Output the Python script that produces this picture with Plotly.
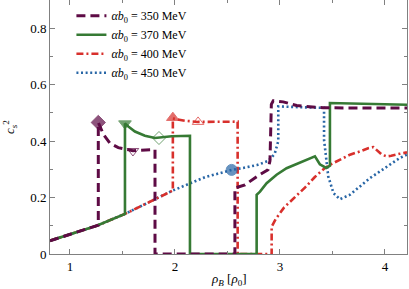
import plotly.graph_objects as go

# ---------------- data ----------------
# shared low-density branch
x_low = [0.81, 1.0, 1.254]
y_low = [0.047, 0.069, 0.100]

# alpha b0 = 350 MeV
x_350 = x_low + [1.27, 1.27, 1.32, 1.38, 1.46, 1.6, 1.7, 1.81, 1.81, 2.571, 2.571, 2.667, 2.79, 2.886,
                 2.905, 2.914, 2.918, 2.936, 3.031, 3.159, 3.286, 3.412, 4.21]
y_350 = y_low + [0.102, 0.466, 0.423, 0.393, 0.377, 0.366, 0.368, 0.370, 0.0, 0.0, 0.234, 0.245, 0.277, 0.298,
                 0.33, 0.42, 0.53, 0.543, 0.539, 0.526, 0.523, 0.518, 0.517]
mx_350 = [1.27, 1.6]
my_350 = [0.466, 0.365]

# alpha b0 = 370 MeV
x_370 = x_low + [1.524, 1.524, 1.556, 1.619, 1.714, 1.81, 1.969, 2.143, 2.143, 2.778, 2.778, 2.81, 2.873,
                 2.968, 3.063, 3.19, 3.333, 3.38, 3.44, 3.476, 3.476, 4.21]
y_370 = y_low + [0.142, 0.462, 0.452, 0.434, 0.419, 0.411, 0.417, 0.419, 0.0, 0.0, 0.21, 0.221, 0.251,
                 0.281, 0.304, 0.324, 0.346, 0.318, 0.305, 0.313, 0.535, 0.529]
mx_370 = [1.524, 1.848]
my_370 = [0.462, 0.411]

# alpha b0 = 400 MeV
x_400 = x_low + [1.524, 1.76, 1.98, 1.98, 2.1, 2.22, 2.597, 2.597, 2.921, 2.921, 2.96, 3.04, 3.14, 3.24,
                 3.33, 3.42, 3.476, 3.57, 3.667, 3.76, 3.84, 3.89, 3.94, 3.97, 4.016, 4.06, 4.14, 4.21]
y_400 = y_low + [0.142, 0.184, 0.225, 0.48, 0.472, 0.468, 0.469, 0.0, 0.0, 0.097, 0.124, 0.165, 0.2, 0.236,
                 0.272, 0.302, 0.316, 0.334, 0.352, 0.363, 0.375, 0.379, 0.363, 0.352, 0.346, 0.348, 0.355, 0.36]
mx_400 = [1.98, 2.22]
my_400 = [0.483, 0.468]

# alpha b0 = 450 MeV
x_450 = x_low + [1.524, 1.76, 1.98, 2.286, 2.43, 2.54, 2.65, 2.78, 2.89, 2.95, 2.984, 2.984, 3.2, 3.42,
                 3.42, 3.435, 3.46, 3.51, 3.57, 3.667, 3.76, 3.857, 3.95, 4.05, 4.14, 4.21]
y_450 = y_low + [0.142, 0.184, 0.225, 0.272, 0.288, 0.298, 0.305, 0.315, 0.33, 0.355, 0.40, 0.523, 0.52, 0.518,
                 0.405, 0.346, 0.275, 0.216, 0.194, 0.21, 0.239, 0.269, 0.292, 0.316, 0.34, 0.352]
mx_450 = [2.54]
my_450 = [0.298]

names = ["350", "370", "400", "450"]
x_ticks = [1, 2, 3, 4]
y_ticks = [0, 0.2, 0.4, 0.6, 0.8]
y_ticklabels = ["0", "0.2", "0.4", "0.6", "0.8"]
x_title = "<i>ρ</i><sub><i>B</i></sub> [<i>ρ</i><sub>0</sub>]"
y_title = "<i>c</i><sub><i>s</i></sub><sup>2</sup>"

# ---------------- styles ----------------
C350 = "#5e0b45"
C370 = "#367a34"
C400 = "#d8302c"
C450 = "#2866a6"
FONT = "Liberation Serif"

fig = go.Figure()

def label(v):
    return "<i>αb</i><sub>0</sub> = " + v + " MeV"

# draw order: blue, red, green, purple (purple on top)
series = [
    (x_450, y_450, mx_450, my_450, C450, dict(width=2.6, dash="2px,2.6px"), ["circle"], 3, names[3]),
    (x_400, y_400, mx_400, my_400, C400, dict(width=2.6, dash="7px,3px,2px,3px"), ["triangle-up", "triangle-up-open"], 2, names[2]),
    (x_370, y_370, mx_370, my_370, C370, dict(width=2.6), ["triangle-down", "diamond-open"], 1, names[1]),
    (x_350, y_350, mx_350, my_350, C350, dict(width=3.0, dash="9px,5px"), ["diamond", "triangle-down-open"], 0, names[0]),
]

for xs, ys, mxs, mys, col, ln, syms, rank, nm in series:
    fig.add_trace(go.Scatter(
        x=xs, y=ys, mode="lines", line=dict(color=col, **ln),
        name=label(nm), legendrank=rank + 1, showlegend=True,
    ))

for xs, ys, mxs, mys, col, ln, syms, rank, nm in series:
    fig.add_trace(go.Scatter(
        x=mxs, y=mys, mode="markers", showlegend=False,
        marker=dict(symbol=syms, color=col, size=[11, 10][:len(mxs)],
                    line=dict(color=col, width=1)),
    ))

axis_common = dict(
    showline=True, linecolor="#808080", linewidth=1, mirror="allticks",
    ticks="inside", ticklen=5, tickwidth=1, tickcolor="#808080",
    showgrid=False, zeroline=False,
    tickfont=dict(family=FONT, size=13, color="black"),
)

fig.update_xaxes(
    range=[0.81, 4.21], tickvals=x_ticks, ticktext=[str(t) for t in x_ticks],
    minor=dict(ticks="inside", dtick=0.5, tick0=0, ticklen=3, tickcolor="#808080", showgrid=False),
    **axis_common,
)
fig.update_yaxes(
    range=[0, 0.9], tickvals=y_ticks, ticktext=y_ticklabels,
    minor=dict(ticks="inside", dtick=0.1, tick0=0, ticklen=3, tickcolor="#808080", showgrid=False),
    **axis_common,
)

# axis titles as annotations (placed in the margins)
fig.add_annotation(text=x_title, xref="paper", yref="paper", x=0.5, y=0,
                   xanchor="center", yanchor="bottom", yshift=-35, showarrow=False,
                   borderpad=0, font=dict(family=FONT, size=13, color="black"))
fig.add_annotation(text=y_title, xref="paper", yref="paper", x=0, y=0.5,
                   xanchor="center", yanchor="middle", xshift=-40, textangle=-90, showarrow=False,
                   font=dict(family=FONT, size=13, color="black"))

fig.update_layout(
    width=409, height=289,
    margin=dict(l=50, r=2, t=0, b=35, autoexpand=False),
    plot_bgcolor="white", paper_bgcolor="white",
    legend=dict(x=0.06, y=0.995, xanchor="left", yanchor="top",
                bgcolor="rgba(0,0,0,0)", font=dict(family=FONT, size=12, color="black"),
                itemwidth=30, tracegroupgap=0),
)

fig.write_html(
    "out.html",
    config={"displayModeBar": False},
    post_script="document.body.style.margin='0';document.body.style.padding='0';"
                "document.body.style.overflow='hidden';",
)
